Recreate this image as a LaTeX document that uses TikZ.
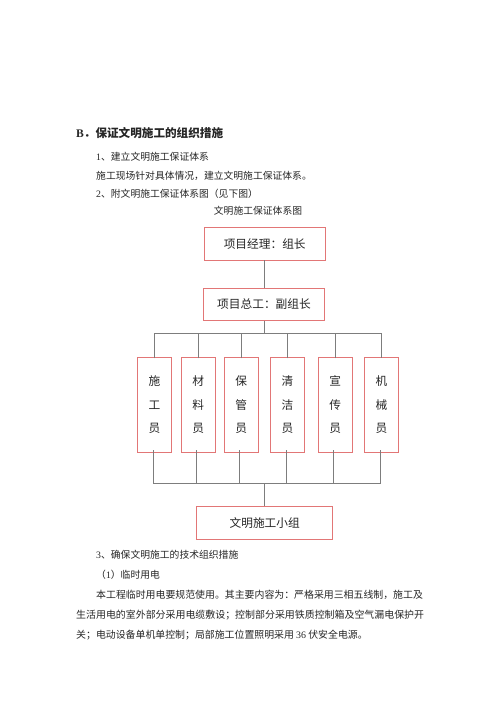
\documentclass[tikz,border=0pt]{standalone}
\usepackage{fontspec}
\setmainfont{Liberation Serif}
\newfontfamily\cjk{Noto Sans CJK SC}
\newfontfamily\lat{Liberation Serif}
\definecolor{boxred}{RGB}{226,118,118}
\definecolor{linegray}{RGB}{125,125,125}
\begin{document}
\begin{tikzpicture}[x=1pt,y=-1pt,
  txt/.style={anchor=west,inner sep=0pt,font=\cjk\fontsize{9.8}{11}\selectfont,text=black!85},
  rbox/.style={draw=boxred,line width=0.8pt,inner sep=0pt,font=\cjk\fontsize{11.7}{14}\selectfont,text=black!85},
  sbox/.style={rbox,minimum width=34.4pt,minimum height=95pt,align=center,font=\cjk\fontsize{11.7}{23.3}\selectfont},
  conn/.style={draw=linegray,line width=0.8pt}]
\fill[white] (0,0) rectangle (500,708);
\useasboundingbox (0,0) rectangle (500,708);
% text above
\node[txt,font=\cjk\bfseries\fontsize{11.6}{13}\selectfont] (h) at (76,133) {{\lat\bfseries B}．保证文明施工的组织措施};
\node[txt] (l1) at (96,157) {{\lat 1}、建立文明施工保证体系};
\node[txt] (l2) at (96,176) {施工现场针对具体情况，建立文明施工保证体系。};
\node[txt] (l3) at (96,194) {{\lat 2}、附文明施工保证体系图（见下图）};
\node[txt,anchor=center] (cap) at (258,211) {文明施工保证体系图};
% boxes
\node[rbox,minimum width=120.5pt,minimum height=32.7pt] (A) at (264.7,243.7) {项目经理：组长};
\node[rbox,minimum width=121pt,minimum height=32.4pt] (B) at (264,304.5) {项目总工：副组长};
\node[sbox] (s1) at (154.5,404.8) {施\\工\\员};
\node[sbox] (s2) at (198.3,404.8) {材\\料\\员};
\node[sbox] (s3) at (241.3,404.8) {保\\管\\员};
\node[sbox] (s4) at (287.5,404.8) {清\\洁\\员};
\node[sbox] (s5) at (335.3,404.8) {宣\\传\\员};
\node[sbox] (s6) at (381.5,404.8) {机\\械\\员};
\node[rbox,minimum width=136pt,minimum height=32.6pt] (C) at (264.7,523) {文明施工小组};
\coordinate (busT) at (264.5,333);
\coordinate (busB) at (264.7,483.3);
% connectors
\draw[conn] (A.south -| busT) -- (B.north -| busT);
\draw[conn] (B.south -| busT) -- (busT);
\draw[conn] ([yshift=-1.5pt]s1.north) -- (s1.north |- busT) -- (s6.north |- busT) -- ([yshift=-1.5pt]s6.north);
\foreach \n in {s2,s3,s4,s5} \draw[conn] ([yshift=-1.5pt]\n.north) -- (\n.north |- busT);
\draw[conn] ([yshift=2.5pt,xshift=-1.5pt]s1.south) -- ([xshift=-1.5pt]s1.south |- busB) -- ([xshift=-1pt]s6.south |- busB) -- ([yshift=2.5pt,xshift=-1pt]s6.south);
\foreach \n in {s2,s3,s4,s5} \draw[conn] ([yshift=2.5pt,xshift=-1.5pt]\n.south) -- ([xshift=-1.5pt]\n.south |- busB);
\draw[conn] (busB) -- (C.north -| busB);
% text below
\node[txt] (l4) at (96,555) {{\lat 3}、确保文明施工的技术组织措施};
\node[txt] (l5) at (96,575) {（{\lat 1}）临时用电};
\node[txt,font=\cjk\fontsize{9.9}{11}\selectfont] (l6) at (96,595) {本工程临时用电要规范使用。其主要内容为：严格采用三相五线制，施工及};
\node[txt,font=\cjk\fontsize{9.94}{11}\selectfont] (l7) at (76,615) {生活用电的室外部分采用电缆敷设；控制部分采用铁质控制箱及空气漏电保护开};
\node[txt,font=\cjk\fontsize{9.9}{11}\selectfont] (l8) at (76,635) {关；电动设备单机单控制；局部施工位置照明采用 {\lat 36} 伏安全电源。};
\end{tikzpicture}
\end{document}
